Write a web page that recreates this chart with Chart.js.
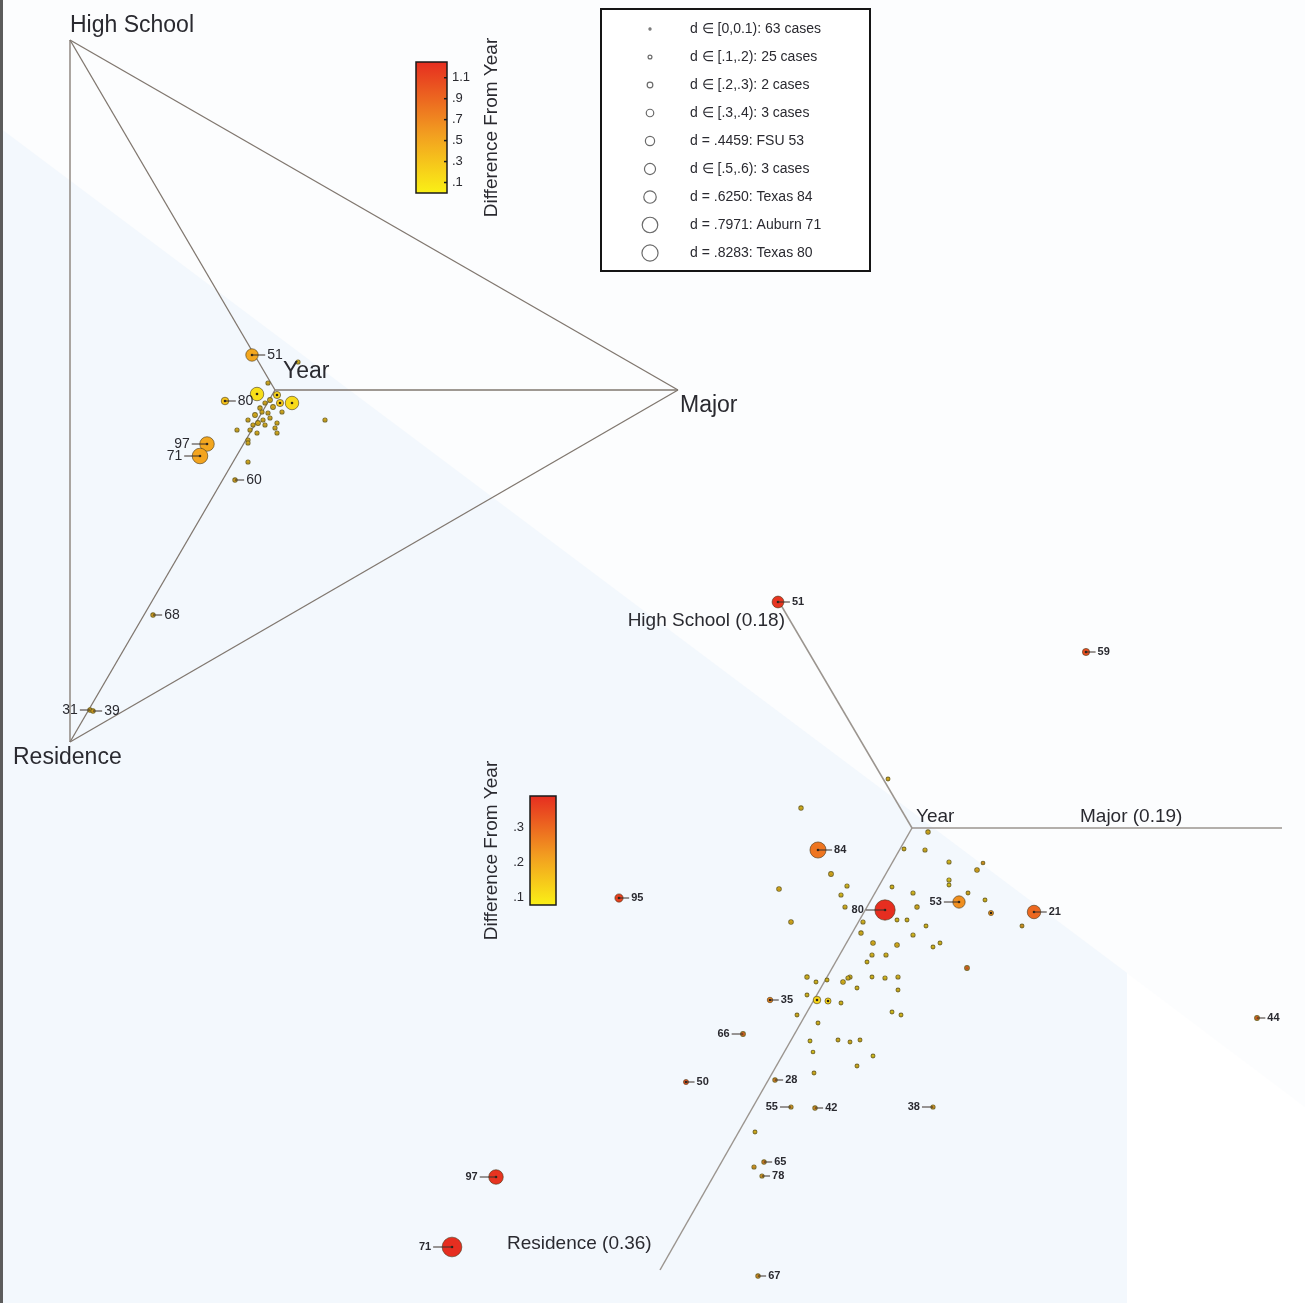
<!DOCTYPE html>
<html>
<head>
<meta charset="utf-8">
<title>Difference From Year</title>
<script src="https://cdn.jsdelivr.net/npm/chart.js@4.4.0/dist/chart.umd.min.js"></script>
<style>
  html, body { margin: 0; padding: 0; background: #fff; }
  canvas { display: block; }
</style>
</head>
<body>
<canvas id="graph" width="1305" height="1303" style="width:1305px;height:1303px"></canvas>
<script>
// Picture units: x to the right, y downwards
var plotWidth = 1305, plotHeight = 1303;

// Upper panel (triangle): corners and the "Year" centre
var topCornerNames = ['High School', 'Major', 'Residence'];
var topCornerX = [70, 678, 70];
var topCornerY = [40, 390, 742];
var topCentreX = 275, topCentreY = 390;

// Lower panel: axis ends and centre
var lowAxisNames = ['High School (0.18)', 'Major (0.19)', 'Residence (0.36)'];
var lowAxisX = [778, 1282, 660];
var lowAxisY = [600, 828, 1270];
var lowCentreX = 912, lowCentreY = 828;

// Upper panel, labelled cases
var topCase = ['51', '80', '97', '71', '60', '68', '31', '39'];
var topCaseX = [252, 225, 207, 200, 235, 153, 90, 93];
var topCaseY = [355, 401, 444, 456, 480, 615, 710, 711];
var topCaseD = [0.45, 0.22, 0.55, 0.6, 0.06, 0.06, 0.06, 0.06];
var topCaseDiff = [0.5, 0.3, 0.5, 0.52, 0.4, 0.4, 0.4, 0.4];
var topCaseSide = ['r', 'r', 'l', 'l', 'r', 'r', 'l', 'r'];

// Upper panel, unlabelled cases
var topDotX = [298, 257, 292, 268, 277, 270, 265, 280, 273, 262, 255, 268, 282, 248, 263, 258, 265, 277, 237, 257, 277, 248, 248, 250, 325, 248, 270, 260, 275, 253];
var topDotY = [362, 394, 403, 383, 395, 400, 403, 403, 407, 412, 415, 413, 412, 420, 420, 423, 425, 423, 430, 433, 433, 440, 443, 430, 420, 462, 418, 408, 428, 425];
var topDotD = [0.05, 0.5, 0.5, 0.05, 0.2, 0.08, 0.05, 0.2, 0.08, 0.05, 0.08, 0.05, 0.05, 0.05, 0.05, 0.08, 0.05, 0.05, 0.05, 0.05, 0.05, 0.05, 0.05, 0.05, 0.05, 0.05, 0.05, 0.06, 0.05, 0.05];
var topDotDiff = [0.25, 0.12, 0.15, 0.3, 0.2, 0.3, 0.35, 0.25, 0.3, 0.3, 0.3, 0.35, 0.3, 0.3, 0.3, 0.3, 0.3, 0.3, 0.3, 0.3, 0.3, 0.3, 0.3, 0.3, 0.3, 0.3, 0.3, 0.3, 0.3, 0.3];

// Lower panel, labelled cases
var lowCase = ['51', '59', '84', '95', '80', '53', '21', '44', '35', '66', '50', '28', '55', '42', '38', '65', '78', '67', '97', '71'];
var lowCaseX = [778, 1086, 818, 619, 885, 959, 1034, 1257, 770, 743, 686, 775, 791, 815, 933, 764, 762, 758, 496, 452];
var lowCaseY = [602, 652, 850, 898, 910, 902, 912, 1018, 1000, 1034, 1082, 1080, 1107, 1108, 1107, 1162, 1176, 1276, 1177, 1247];
var lowCaseD = [0.42, 0.2, 0.625, 0.25, 0.8283, 0.4459, 0.5, 0.08, 0.12, 0.08, 0.1, 0.06, 0.05, 0.06, 0.05, 0.06, 0.05, 0.06, 0.55, 0.7971];
var lowCaseDiff = [0.38, 0.34, 0.28, 0.36, 0.39, 0.24, 0.3, 0.3, 0.25, 0.3, 0.33, 0.25, 0.2, 0.22, 0.2, 0.25, 0.2, 0.22, 0.38, 0.39];
var lowCaseSide = ['r', 'r', 'r', 'r', 'l', 'l', 'r', 'r', 'r', 'l', 'r', 'r', 'l', 'r', 'l', 'r', 'r', 'r', 'l', 'l'];

// Lower panel, unlabelled cases
var lowDotX = [801, 928, 904, 925, 949, 977, 983, 831, 779, 847, 892, 949, 949, 968, 913, 841, 845, 917, 985, 991, 791, 863, 897, 907, 926, 1022, 913, 861, 873, 897, 933, 940, 872, 886, 867, 967, 807, 850, 872, 885, 898, 816, 827, 843, 848, 857, 898, 807, 817, 828, 841, 797, 892, 901, 818, 810, 838, 850, 860, 813, 873, 857, 814, 755, 754, 888];
var lowDotY = [808, 832, 849, 850, 862, 870, 863, 874, 889, 886, 887, 880, 885, 893, 893, 895, 907, 907, 900, 913, 922, 922, 920, 920, 926, 926, 935, 933, 943, 945, 947, 943, 955, 955, 962, 968, 977, 977, 977, 978, 977, 982, 980, 982, 978, 988, 990, 995, 1000, 1001, 1003, 1015, 1012, 1015, 1023, 1041, 1040, 1042, 1040, 1052, 1056, 1066, 1073, 1132, 1167, 779];
var lowDotD = [0.06, 0.06, 0.04, 0.05, 0.05, 0.07, 0.03, 0.08, 0.07, 0.05, 0.04, 0.05, 0.04, 0.04, 0.05, 0.05, 0.05, 0.06, 0.04, 0.1, 0.07, 0.05, 0.04, 0.04, 0.04, 0.04, 0.05, 0.06, 0.07, 0.07, 0.04, 0.04, 0.05, 0.05, 0.04, 0.08, 0.06, 0.05, 0.04, 0.05, 0.05, 0.04, 0.04, 0.07, 0.05, 0.04, 0.04, 0.04, 0.22, 0.15, 0.04, 0.04, 0.04, 0.04, 0.04, 0.04, 0.04, 0.04, 0.04, 0.03, 0.04, 0.04, 0.04, 0.04, 0.05, 0.04];
var lowDotDiff = [0.14, 0.15, 0.13, 0.14, 0.12, 0.17, 0.2, 0.16, 0.16, 0.12, 0.12, 0.1, 0.1, 0.15, 0.12, 0.12, 0.14, 0.15, 0.12, 0.22, 0.16, 0.13, 0.12, 0.12, 0.12, 0.2, 0.12, 0.14, 0.15, 0.15, 0.12, 0.12, 0.13, 0.13, 0.12, 0.3, 0.13, 0.13, 0.12, 0.12, 0.13, 0.12, 0.12, 0.14, 0.13, 0.12, 0.13, 0.12, 0.12, 0.12, 0.12, 0.14, 0.1, 0.12, 0.13, 0.1, 0.14, 0.14, 0.14, 0.1, 0.1, 0.14, 0.14, 0.14, 0.2, 0.15];

// Colour bar ranges and ticks
var topBarLo = 0, topBarHi = 1.25;
var topBarTicks = [0.1, 0.3, 0.5, 0.7, 0.9, 1.1];
var topBarTickText = ['.1', '.3', '.5', '.7', '.9', '1.1'];
var lowBarLo = 0.077, lowBarHi = 0.389;
var lowBarTicks = [0.1, 0.2, 0.3];
var lowBarTickText = ['.1', '.2', '.3'];
var barTitle = 'Difference From Year';

// Size legend
var legendText = ['d \u2208 [0,0.1): 63 cases', 'd \u2208 [.1,.2): 25 cases', 'd \u2208 [.2,.3): 2 cases', 'd \u2208 [.3,.4): 3 cases',
  'd = .4459: FSU 53', 'd \u2208 [.5,.6): 3 cases', 'd = .6250: Texas 84', 'd = .7971: Auburn 71', 'd = .8283: Texas 80'];
var legendD = [0.05, 0.15, 0.25, 0.35, 0.4459, 0.55, 0.625, 0.7971, 0.8283];

var fontFamily = '"Liberation Sans", Arial, Helvetica, sans-serif';
var inkColor = '#2a2a30';

/**
 * Marker radius from d
 */
function radiusOf(d) {
    return 1.5 + 10.5 * d;
}

/**
 * Yellow -> orange -> red, t in [0,1]
 */
var heatStops = [[0, [250, 240, 22]], [0.45, [242, 158, 32]], [1, [230, 46, 32]]];
function heatColor(t) {
    t = Math.max(0, Math.min(1, t));
    for (var i = 1; i < heatStops.length; i++) {
        if (t <= heatStops[i][0]) {
            var a = heatStops[i - 1], b = heatStops[i];
            var f = (t - a[0]) / (b[0] - a[0]);
            var c = a[1].map(function (v, k) { return Math.round(v + (b[1][k] - v) * f); });
            return 'rgb(' + c.join(',') + ')';
        }
    }
    return 'rgb(' + heatStops[heatStops.length - 1][1].join(',') + ')';
}

function toPoints(xs, ys) {
    return xs.map(function (x, i) { return {x: x, y: ys[i]}; });
}

function segment(x1, y1, x2, y2, color, width) {
    return {
        data: [{x: x1, y: y1}, {x: x2, y: y2}],
        showLine: true,
        borderColor: color,
        borderWidth: width,
        pointRadius: 0,
        pointHoverRadius: 0,
        clip: false,
        order: 5
    };
}

// Build datasets
var datasets = [];

// triangle edges and spokes
var edgeColor = '#80776f';
for (var i = 0; i < 3; i++) {
    var j = (i + 1) % 3;
    datasets.push(segment(topCornerX[i], topCornerY[i], topCornerX[j], topCornerY[j], edgeColor, 1.3));
    datasets.push(segment(topCornerX[i], topCornerY[i], topCentreX, topCentreY, edgeColor, 1.3));
    datasets.push(segment(lowCentreX, lowCentreY, lowAxisX[i], lowAxisY[i], '#9b958f', 1.5));
}

function pointSet(xs, ys, ds, diffs, lo, hi) {
    return {
        data: toPoints(xs, ys),
        pointRadius: ds.map(radiusOf),
        pointHoverRadius: ds.map(radiusOf),
        pointBackgroundColor: diffs.map(function (v) { return heatColor((v - lo) / (hi - lo)); }),
        pointBorderColor: ds.map(function (d) { return d < 0.1 ? 'rgba(110,95,30,0.9)' : 'rgba(70,55,25,0.75)'; }),
        pointBorderWidth: ds.map(function (d) { return d < 0.1 ? 1.1 : 0.8; }),
        showLine: false,
        clip: false,
        order: 3
    };
}

function centreSet(xs, ys, ds) {
    return {
        data: toPoints(xs, ys),
        pointRadius: ds.map(function (d) { return d < 0.1 ? 0.6 : 1.3; }),
        pointBackgroundColor: '#2d2418',
        pointBorderWidth: 0,
        showLine: false,
        clip: false,
        order: 1
    };
}

datasets.push(pointSet(topDotX, topDotY, topDotD, topDotDiff, topBarLo, topBarHi));
datasets.push(pointSet(topCaseX, topCaseY, topCaseD, topCaseDiff, topBarLo, topBarHi));
datasets.push(pointSet(lowDotX, lowDotY, lowDotD, lowDotDiff, lowBarLo, lowBarHi));
datasets.push(pointSet(lowCaseX, lowCaseY, lowCaseD, lowCaseDiff, lowBarLo, lowBarHi));
datasets.push(centreSet(topDotX, topDotY, topDotD));
datasets.push(centreSet(topCaseX, topCaseY, topCaseD));
datasets.push(centreSet(lowDotX, lowDotY, lowDotD));
datasets.push(centreSet(lowCaseX, lowCaseY, lowCaseD));

// Background: pale blue wedge
var backdrop = {
    id: 'backdrop',
    beforeDraw: function (chart) {
        var ctx = chart.ctx;
        ctx.save();
        ctx.fillStyle = '#fcfdfe';
        ctx.fillRect(0, 0, chart.width, chart.height);
        ctx.fillStyle = '#f3f8fd';
        ctx.beginPath();
        ctx.moveTo(0, 128);
        ctx.lineTo(1127, 973);
        ctx.lineTo(1127, chart.height);
        ctx.lineTo(0, chart.height);
        ctx.closePath();
        ctx.fill();
        ctx.fillStyle = '#ffffff';
        ctx.beginPath();
        ctx.moveTo(1127, 973);
        ctx.lineTo(chart.width, 1107);
        ctx.lineTo(chart.width, chart.height);
        ctx.lineTo(1127, chart.height);
        ctx.closePath();
        ctx.fill();
        ctx.fillStyle = '#5c5c5c';
        ctx.fillRect(0, 0, 3, chart.height);
        ctx.restore();
    }
};

// Axis names and case numbers
var textLayer = {
    id: 'textLayer',
    afterDatasetsDraw: function (chart) {
        var ctx = chart.ctx, xs = chart.scales.x, ys = chart.scales.y;
        ctx.save();
        ctx.fillStyle = inkColor;
        ctx.textBaseline = 'middle';

        // upper panel names
        ctx.font = '23px ' + fontFamily;
        ctx.textAlign = 'left';
        ctx.fillText(topCornerNames[0], 70, 26);
        ctx.fillText(topCornerNames[1], 680, 406);
        ctx.fillText(topCornerNames[2], 13, 758);
        ctx.fillText('Year', 283, 372);

        // lower panel names
        ctx.font = '19px ' + fontFamily;
        ctx.textAlign = 'right';
        ctx.fillText(lowAxisNames[0], 785, 621);
        ctx.textAlign = 'left';
        ctx.fillText(lowAxisNames[1], 1080, 817);
        ctx.fillText(lowAxisNames[2], 507, 1244);
        ctx.fillText('Year', 916, 817);

        function put(names, xv, yv, dv, side, font, gapR, gapL) {
            ctx.font = font;
            ctx.strokeStyle = '#3a302a';
            ctx.lineWidth = 1;
            names.forEach(function (name, i) {
                var px = xs.getPixelForValue(xv[i]), py = ys.getPixelForValue(yv[i]);
                var r = radiusOf(dv[i]);
                var left = side[i] === 'l';
                var gap = r + (left ? gapL : gapR);
                var dir = left ? -1 : 1;
                ctx.beginPath();
                ctx.moveTo(px, py);
                ctx.lineTo(px + dir * (gap - 2), py);
                ctx.stroke();
                ctx.textAlign = left ? 'right' : 'left';
                ctx.fillText(name, px + dir * gap, py);
            });
        }
        put(topCase, topCaseX, topCaseY, topCaseD, topCaseSide, '14px ' + fontFamily, 9, 10);
        put(lowCase, lowCaseX, lowCaseY, lowCaseD, lowCaseSide, 'bold 11px ' + fontFamily, 8, 11);
        ctx.restore();
    }
};

// Colour bars and size legend
function drawBar(ctx, x, y, w, h, lo, hi, ticks, tickText, labelsRight, titleX) {
    var g = ctx.createLinearGradient(0, y + h, 0, y);
    heatStops.forEach(function (s) { g.addColorStop(s[0], heatColor(s[0])); });
    ctx.fillStyle = g;
    ctx.fillRect(x, y, w, h);
    ctx.strokeStyle = '#1a1a1a';
    ctx.lineWidth = 1.5;
    ctx.strokeRect(x, y, w, h);
    ctx.font = '13px ' + fontFamily;
    ctx.fillStyle = inkColor;
    ctx.textBaseline = 'middle';
    ticks.forEach(function (v, i) {
        var ty = y + h - (v - lo) / (hi - lo) * h;
        if (labelsRight) {
            ctx.beginPath();
            ctx.moveTo(x + w - 3, ty);
            ctx.lineTo(x + w, ty);
            ctx.stroke();
            ctx.textAlign = 'left';
            ctx.fillText(tickText[i], x + w + 5, ty);
        } else {
            ctx.textAlign = 'right';
            ctx.fillText(tickText[i], x - 6, ty);
        }
    });
    ctx.save();
    ctx.translate(titleX, y + h / 2);
    ctx.rotate(-Math.PI / 2);
    ctx.textAlign = 'center';
    ctx.font = '19px ' + fontFamily;
    ctx.fillText(barTitle, 0, 0);
    ctx.restore();
}

var extras = {
    id: 'extras',
    afterDraw: function (chart) {
        var ctx = chart.ctx;
        ctx.save();
        drawBar(ctx, 416, 62, 31, 131, topBarLo, topBarHi, topBarTicks, topBarTickText, true, 492);
        drawBar(ctx, 530, 796, 26, 109, lowBarLo, lowBarHi, lowBarTicks, lowBarTickText, false, 492);

        // legend box
        ctx.fillStyle = '#ffffff';
        ctx.fillRect(601, 9, 269, 262);
        ctx.strokeStyle = '#151515';
        ctx.lineWidth = 2;
        ctx.strokeRect(601, 9, 269, 262);
        ctx.font = '14px ' + fontFamily;
        ctx.textBaseline = 'middle';
        ctx.textAlign = 'left';
        legendText.forEach(function (t, i) {
            var y = 29 + i * 28;
            ctx.beginPath();
            ctx.arc(650, y, 0.6 + 9 * legendD[i], 0, Math.PI * 2);
            ctx.strokeStyle = '#6a6a6a';
            ctx.lineWidth = 1.2;
            ctx.stroke();
            ctx.fillStyle = inkColor;
            ctx.fillText(t, 690, y);
        });
        ctx.restore();
    }
};

var chart = new Chart(document.getElementById('graph').getContext('2d'), {
    type: 'scatter',
    data: {datasets: datasets},
    options: {
        responsive: false,
        animation: false,
        devicePixelRatio: 1,
        layout: {padding: 0, autoPadding: false},
        events: [],
        plugins: {
            legend: {display: false},
            tooltip: {enabled: false}
        },
        scales: {
            x: {type: 'linear', min: 0, max: plotWidth, display: false},
            y: {type: 'linear', min: 0, max: plotHeight, reverse: true, display: false}
        }
    },
    plugins: [backdrop, textLayer, extras]
});
</script>
</body>
</html>
